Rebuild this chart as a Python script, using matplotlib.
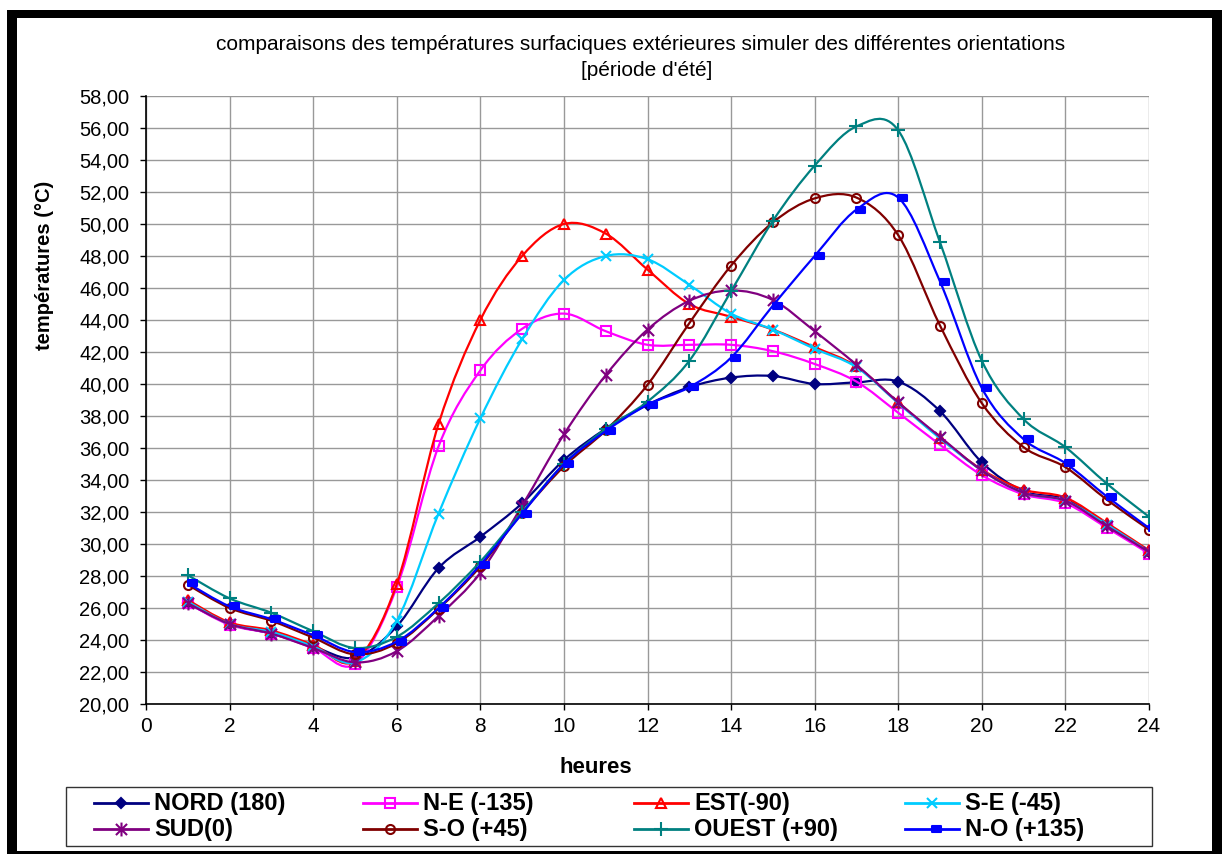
import matplotlib
matplotlib.use("Agg")
import matplotlib.pyplot as plt
from matplotlib.path import Path
from matplotlib.patches import PathPatch, Rectangle
from matplotlib.lines import Line2D

plt.rcParams['font.family'] = ['Liberation Sans', 'DejaVu Sans']

hours = list(range(1, 25))

nord = [26.3, 25.0, 24.4, 23.6, 22.9, 24.85, 28.5, 30.45, 32.55, 35.25, 37.2, 38.7,
        39.8, 40.4, 40.5, 40.0, 40.1, 40.15, 38.3, 35.1, 33.3, 32.8, 31.2, 29.5]
n_e = [26.3, 24.95, 24.4, 23.5, 22.5, 27.3, 36.1, 40.85, 43.45, 44.4, 43.3, 42.45,
       42.45, 42.45, 42.05, 41.25, 40.15, 38.2, 36.2, 34.3, 33.1, 32.55, 31.0, 29.4]
est = [26.5, 25.1, 24.6, 23.7, 22.7, 27.5, 37.5, 44.0, 48.0, 50.0, 49.4, 47.15,
       45.0, 44.2, 43.4, 42.3, 41.1, 38.85, 36.65, 34.65, 33.4, 32.9, 31.3, 29.6]
s_e = [26.4, 25.0, 24.5, 23.6, 22.6, 25.2, 31.9, 37.85, 42.8, 46.5, 48.0, 47.8,
       46.2, 44.4, 43.4, 42.2, 41.05, 38.8, 36.6, 34.6, 33.2, 32.7, 31.2, 29.5]
sud = [26.3, 25.0, 24.4, 23.5, 22.6, 23.3, 25.5, 28.2, 32.4, 36.85, 40.55, 43.4,
       45.2, 45.85, 45.25, 43.3, 41.2, 38.85, 36.7, 34.6, 33.2, 32.7, 31.1, 29.5]
s_o = [27.45, 26.0, 25.2, 24.15, 23.1, 23.8, 25.95, 28.6, 31.95, 34.85, 37.1, 39.95,
       43.8, 47.4, 50.1, 51.6, 51.65, 49.3, 43.65, 38.8, 36.05, 34.8, 32.75, 30.9]
ouest = [28.05, 26.6, 25.7, 24.55, 23.5, 24.2, 26.3, 28.9, 32.0, 35.0, 37.2, 38.9,
         41.45, 45.8, 50.2, 53.65, 56.1, 55.85, 48.85, 41.45, 37.8, 36.05, 33.75, 31.7]
n_o = [27.55, 26.1, 25.3, 24.3, 23.25, 23.9, 26.0, 28.7, 31.9, 35.0, 37.05, 38.7,
       39.8, 41.65, 44.9, 48.0, 50.9, 51.65, 46.4, 39.75, 36.55, 35.05, 32.95, 31.0]

labels = ["NORD (180)", "N-E (-135)", "EST(-90)", "S-E (-45)",
          "SUD(0)", "S-O (+45)", "OUEST (+90)", "N-O (+135)"]
series = [nord, n_e, est, s_e, sud, s_o, ouest, n_o]

# excel style markers
star = Path([(0, -1), (0, 1), (-0.8, -0.8), (0.8, 0.8), (-0.8, 0.8), (0.8, -0.8)],
            [Path.MOVETO, Path.LINETO, Path.MOVETO, Path.LINETO, Path.MOVETO, Path.LINETO])
dash = Path([(0, -0.28), (1, -0.28), (1, 0.28), (0, 0.28), (0, -0.28)],
            [Path.MOVETO, Path.LINETO, Path.LINETO, Path.LINETO, Path.CLOSEPOLY])

styles = [
    dict(color="#000080", marker="D", ms=5.5, mfc="#000080"),
    dict(color="#FF00FF", marker="s", ms=6.5, mfc="none"),
    dict(color="#FF0000", marker="^", ms=7.5, mfc="none"),
    dict(color="#00CCFF", marker="x", ms=7.5, mfc="none"),
    dict(color="#800080", marker=star, ms=10, mfc="none"),
    dict(color="#800000", marker="o", ms=6.5, mfc="none"),
    dict(color="#008080", marker="+", ms=10, mfc="none"),
    dict(color="#0000FF", marker=dash, ms=13, mfc="#0000FF"),
]


def smooth_path(x, y):
    # bezier curve through the points, like excel's smoothed lines
    verts = [(x[0], y[0])]
    codes = [Path.MOVETO]
    n = len(x)
    for i in range(n - 1):
        a = max(i - 1, 0)
        b = min(i + 2, n - 1)
        c1 = (x[i] + (x[i + 1] - x[a]) / 6, y[i] + (y[i + 1] - y[a]) / 6)
        c2 = (x[i + 1] - (x[b] - x[i]) / 6, y[i + 1] - (y[b] - y[i]) / 6)
        verts += [c1, c2, (x[i + 1], y[i + 1])]
        codes += [Path.CURVE4] * 3
    return Path(verts, codes)


fig = plt.figure(figsize=(12.28, 8.55), dpi=100)
W, H = 1228, 855

# black frame around the chart
fig.patches.append(Rectangle((7 / W, 1 - 854 / H), 1215 / W, 844 / H, transform=fig.transFigure,
                             facecolor="black", edgecolor="none", zorder=-2))
fig.patches.append(Rectangle((17 / W, 1 - 851 / H), 1195 / W, 833 / H, transform=fig.transFigure,
                             facecolor="white", edgecolor="none", zorder=-1))

ax = fig.add_axes([146 / W, 1 - 704 / H, (1149 - 146) / W, (704 - 96) / H])

for i, (vals, st) in enumerate(zip(series, styles)):
    ax.add_patch(PathPatch(smooth_path(hours, vals), fill=False, edgecolor=st["color"],
                           lw=1.6, zorder=3 + i))
    ax.plot(hours, vals, linestyle="none", marker=st["marker"], ms=st["ms"],
            mfc=st["mfc"], mec=st["color"], mew=1.5, zorder=3 + i)

ax.set_xlim(0, 24)
ax.set_ylim(20, 58)
xticks = list(range(0, 25, 2))
yticks = list(range(20, 59, 2))
ax.set_xticks(xticks)
ax.set_yticks(yticks)
ax.set_xticklabels([str(t) for t in xticks], fontsize=15)
ax.set_yticklabels([f"{t:.2f}".replace(".", ",") for t in yticks], fontsize=14.5)
ax.tick_params(direction="out", length=4, width=1, pad=5)
ax.tick_params(axis="y", pad=8)
ax.grid(True, color="#999999", lw=1)
ax.set_axisbelow(True)
for s in ["top", "right"]:
    ax.spines[s].set_visible(False)
ax.spines["left"].set_linewidth(1.2)
ax.spines["bottom"].set_linewidth(1.2)

fig.text(641 / W, 1 - 45 / H, "comparaisons des températures surfaciques extérieures simuler des différentes orientations",
         ha="center", va="center", fontsize=15)
fig.text(647 / W, 1 - 70 / H, "[période d'été]", ha="center", va="center", fontsize=15)
fig.text(596 / W, 1 - 767 / H, "heures", ha="center", va="center", fontsize=16, fontweight="bold")
fig.text(45 / W, 1 - 265 / H, "températures (°C)", ha="center", va="center", rotation=90,
         fontsize=14.5, fontweight="bold")

# legend laid out like the excel one: 4 equal columns, 2 rows
fig.patches.append(Rectangle((66 / W, 1 - 846 / H), (1152 - 66) / W, 59 / H,
                             transform=fig.transFigure, facecolor="white",
                             edgecolor="#333333", lw=1, zorder=1))
col_x = [94, 363, 634, 905]
row_y = [803, 829]
for k, (lab, st) in enumerate(zip(labels, styles)):
    x0 = col_x[k % 4]
    y0 = row_y[k // 4]
    fig.add_artist(Line2D([x0 / W, (x0 + 54) / W], [1 - y0 / H, 1 - y0 / H],
                          transform=fig.transFigure, color=st["color"], lw=2, zorder=2))
    fig.add_artist(Line2D([(x0 + 27) / W], [1 - y0 / H], transform=fig.transFigure,
                          linestyle="none", marker=st["marker"], ms=st["ms"], mfc=st["mfc"],
                          mec=st["color"], mew=1.5, zorder=3))
    fig.text((x0 + 60) / W, 1 - y0 / H, lab, ha="left", va="center", fontsize=17,
             fontweight="bold", zorder=3)

fig.savefig("out.png", dpi=100)
